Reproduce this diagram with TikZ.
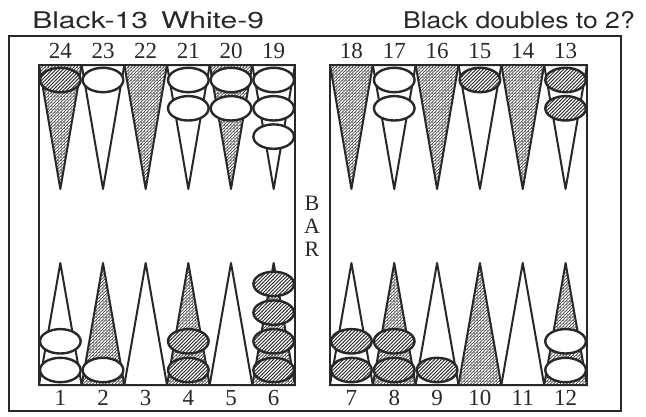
\documentclass[tikz,border=0pt]{standalone}
\usepackage{fontspec}
\setmainfont{Liberation Serif}
\newfontfamily\headfont{TeX Gyre Heros}
\usetikzlibrary{patterns}
\definecolor{ink}{RGB}{40,40,40}

% dark points: diagonal strokes with short cross strokes
\pgfdeclarepatternformonly{weave}{\pgfqpoint{-1pt}{-1pt}}{\pgfqpoint{4pt}{4pt}}{\pgfqpoint{3.2pt}{3.2pt}}{
  \pgfsetlinewidth{0.55pt}
  \pgfpathmoveto{\pgfqpoint{-0.2pt}{-0.2pt}}\pgfpathlineto{\pgfqpoint{3.4pt}{3.4pt}}
  \pgfusepath{stroke}
  \pgfsetlinewidth{0.35pt}
  \pgfpathmoveto{\pgfqpoint{0pt}{3.2pt}}\pgfpathlineto{\pgfqpoint{1.1pt}{2.1pt}}
  \pgfusepath{stroke}
}
% black checkers: plain hatching
\pgfdeclarepatternformonly{hatch}{\pgfqpoint{-1pt}{-1pt}}{\pgfqpoint{4.5pt}{4.5pt}}{\pgfqpoint{3.5pt}{3.5pt}}{
  \pgfsetlinewidth{0.85pt}
  \pgfpathmoveto{\pgfqpoint{-0.2pt}{-0.2pt}}\pgfpathlineto{\pgfqpoint{3.7pt}{3.7pt}}
  \pgfusepath{stroke}
}

\begin{document}
\begin{tikzpicture}[x=1pt,y=-1pt,
    pt/.style={draw=ink, line width=2pt, line join=round},
    darkpt/.style={pt, pattern=weave, pattern color=ink},
    blackman/.style={draw=ink, line width=2.4pt, preaction={fill=white}, pattern=hatch, pattern color=ink},
    whiteman/.style={draw=ink, line width=2.4pt, fill=white},
    board/.style={draw=ink, line width=2.8pt},
    num/.style={font=\fontsize{23}{23}\selectfont, text=ink, inner sep=0pt},
    head/.style={font=\headfont\fontsize{23}{23}\selectfont, text=ink, inner sep=0pt, xscale=1.155}]
  \useasboundingbox (0,0) rectangle (646,416);

  % header
  \node[head, anchor=base west, xscale=1.13] (score) at (32,28) {Black-13\hspace{10pt}White-9};
  \node[head, anchor=base east] (cube) at (635,28) {Black doubles to 2?};

  % outer frame
  \draw[ink, line width=2pt] (9,36) rectangle (621,411);

  % points, column c = bottom point c+1, top point 24-c
  \foreach \c in {0,...,11} {
    \pgfmathsetmacro\xl{\c<6 ? 39+\c*42.667 : 330+(\c-6)*42.833}
    \pgfmathsetmacro\w{\c<6 ? 42.667 : 42.833}
    \pgfmathtruncatemacro\odd{mod(\c,2)}
    \ifnum\odd=0
      \draw[darkpt] (\xl,65) -- ++(\w,0) -- (\xl+\w/2,189) -- cycle;
      \draw[pt] (\xl,385) -- ++(\w,0) -- (\xl+\w/2,263) -- cycle;
    \else
      \draw[pt] (\xl,65) -- ++(\w,0) -- (\xl+\w/2,189) -- cycle;
      \draw[darkpt] (\xl,385) -- ++(\w,0) -- (\xl+\w/2,263) -- cycle;
    \fi
    \pgfmathtruncatemacro\lo{\c+1}
    \pgfmathtruncatemacro\hi{24-\c}
    \node[num] (n\lo) at (\xl+\w/2,398) {\lo};
    \node[num] (n\hi) at (\xl+\w/2,51) {\hi};
  }

  % boards
  \draw[board] (39,65) rectangle (295,385);
  \draw[board] (330,65) rectangle (587,385);
  \node[num, align=center, font=\fontsize{22}{23}\selectfont] (bar) at (312,226) {B\\A\\R};

  % checkers on top points: column/count/style
  \foreach \c/\n/\s in {0/1/blackman, 1/1/whiteman, 3/2/whiteman, 4/2/whiteman,
                        5/3/whiteman, 7/2/whiteman, 9/1/blackman, 11/2/blackman} {
    \pgfmathsetmacro\xc{\c<6 ? 39+(\c+0.5)*42.667 : 330+(\c-5.5)*42.833}
    \foreach \k in {1,...,\n}
      \draw[\s] (\xc,80+28.3*\k-28.3) ellipse [x radius=20.3, y radius=12.2];
  }
  % checkers on bottom points
  \foreach \c/\n/\s in {0/2/whiteman, 1/1/whiteman, 3/2/blackman, 5/4/blackman,
                        6/2/blackman, 7/2/blackman, 8/1/blackman, 11/2/whiteman} {
    \pgfmathsetmacro\xc{\c<6 ? 39+(\c+0.5)*42.667 : 330+(\c-5.5)*42.833}
    \foreach \k in {1,...,\n}
      \draw[\s] (\xc,370-28.7*\k+28.7) ellipse [x radius=20.3, y radius=12.2];
  }
\end{tikzpicture}
\end{document}
